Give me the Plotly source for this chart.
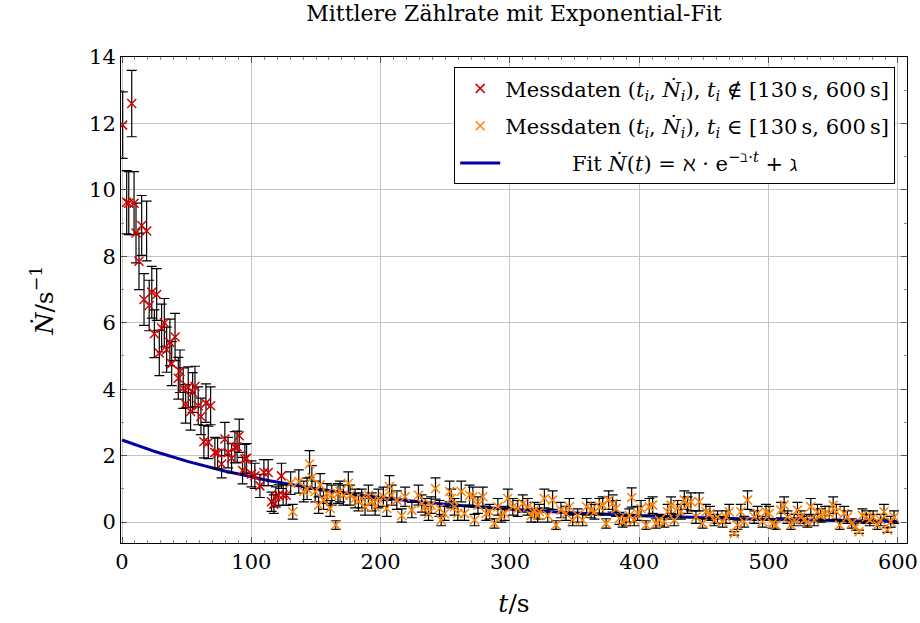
import numpy as np
import plotly.graph_objects as go

# ---- data ----
red_t = [0.5, 3.6, 5.2, 7.5, 9.3, 10.8, 13.1, 15.2, 17.0, 19.0, 21.0, 23.0, 25.0, 26.8, 28.8,
         30.6, 32.7, 34.5, 37.0, 38.4, 41.0, 43.5, 44.8, 47.3, 49.2, 51.2, 53.0, 54.6, 56.4,
         58.9, 61.0, 63.3, 64.9, 66.7, 68.5, 71.8, 73.9, 77.0, 79.5, 82.0, 84.7, 87.3, 89.0,
         90.6, 93.2, 95.0, 96.3, 100.1, 102.7, 106.6, 109.7, 113.0, 115.6, 117.4, 118.9,
         121.0, 123.3, 124.6, 127.0]
red_N = [11.95, 9.63, 9.6, 12.6, 9.6, 8.7, 7.85, 8.93, 6.7, 8.76, 6.52, 6.92, 5.67, 6.85, 5.09,
         5.84, 6.0, 5.19, 5.41, 4.77, 5.57, 4.33, 4.54, 4.03, 3.56, 4.06, 3.33, 3.9, 4.08,
         3.5, 3.18, 2.42, 3.58, 2.4, 3.5, 2.09, 2.07, 1.75, 2.5, 2.09, 1.92, 2.25, 2.27,
         2.6, 1.55, 1.9, 1.92, 1.45, 1.39, 1.09, 1.49, 1.49, 0.61, 0.54, 0.76,
         0.81, 1.39, 0.81, 0.81]
red_err = [1.0, 0.95, 0.95, 1.0, 0.95, 0.9, 0.85, 0.9, 0.78, 0.9, 0.76, 0.78, 0.72, 0.78, 0.68,
           0.72, 0.73, 0.68, 0.7, 0.66, 0.71, 0.63, 0.64, 0.61, 0.58, 0.61, 0.56, 0.6, 0.61,
           0.57, 0.55, 0.49, 0.58, 0.49, 0.57, 0.46, 0.46, 0.42, 0.5, 0.46, 0.44, 0.47, 0.47,
           0.5, 0.4, 0.44, 0.44, 0.39, 0.38, 0.35, 0.39, 0.39, 0.29, 0.28, 0.3,
           0.31, 0.38, 0.31, 0.31]

orange_t = [130.4, 132.0, 136.7, 140.5, 143.1, 145.0, 146.8, 149.4, 152.0, 153.2, 155.8, 158.4,
            161.0, 162.2, 165.3, 167.0, 168.6, 171.2, 175.0, 176.3, 180.2, 182.8, 185.3, 187.9,
            190.5, 193.1, 195.7, 198.2, 202.1, 204.7, 206.8, 208.6, 212.5, 216.3, 218.9, 224.1,
            229.2, 231.8, 234.4, 237.0,
            239.0, 242.4, 245.5, 246.8, 249.4, 253.3, 254.6, 257.1, 259.7, 262.3, 264.8, 268.7,
            271.3, 272.6, 275.2, 279.0, 281.6, 284.2, 288.0, 290.6, 293.2, 295.8, 298.3, 302.2,
            306.0, 309.9, 313.7, 316.3, 318.9, 321.4, 322.7, 326.6, 329.2, 333.0, 335.6, 339.4,
            343.3, 345.9, 348.5, 352.3, 356.2, 359.3,
            362.7, 365.3, 369.1, 371.7, 374.3, 376.3, 379.4, 382.0, 384.6, 387.1, 389.7, 392.3,
            394.1, 396.1, 398.7, 401.3, 405.2, 407.7, 410.3, 412.9, 415.5, 419.3, 421.9, 424.5,
            427.0, 429.6, 432.2, 434.8, 437.3, 439.9, 443.8, 446.3, 448.9, 451.5, 454.6, 458.0,
            460.5, 464.4, 467.0, 469.5, 473.4, 475.9, 478.5, 481.1, 483.7,
            488.9, 491.4, 495.3, 497.9, 500.4, 503.0, 505.6, 509.5, 512.0, 514.6, 517.2, 519.7,
            522.3, 524.9, 527.5, 530.0, 532.6, 535.2, 537.8, 540.3, 543.7, 546.8, 549.9, 552.4,
            555.0, 558.4, 560.9, 564.3, 567.4, 569.9, 572.5, 575.6, 578.2, 580.8, 584.1, 586.7,
            589.2, 591.8, 594.4, 597.0]
orange_N = [1.17, 0.31, 1.22, 0.92, 1.0, 1.75, 1.34, 0.92, 0.51, 1.12, 0.66, 0.86,
            0.41, 0.81, -0.09, 0.86, 0.92, 0.81, 1.17, 0.81, 0.71, 0.61, 0.71, 0.46,
            0.81, 0.61, 0.46, 0.71, 0.76, 0.41, 1.07, 0.81, 0.66, 0.2, 0.76, 0.36,
            0.81, 0.56, 0.46, 0.26,
            0.51, 1.01, 0.41, 0.06, 0.26, 0.92, 0.71, 0.46, 0.26, 0.92, 0.26, 0.81,
            0.76, 0.06, 0.51, 0.76, 0.26, 0.31, -0.04, 0.46, 0.2, 0.26, 0.71, 0.46,
            0.41, 0.56, 0.46, 0.2, 0.36, 0.2, 0.31, 0.71, 0.2, 0.66, -0.09, 0.36,
            0.26, 0.46, 0.06, 0.2, 0.06, 0.46,
            0.36, 0.31, 0.46, 0.51, -0.04, 0.66, 0.56, 0.41, 0.11, 0.01, 0.06, 0.2,
            0.74, 0.06, 0.26, 0.41, -0.09, 0.46, 0.51, -0.04, 0.06, 0.01, 0.31, 0.51,
            0.06, 0.41, 0.31, 0.66, 0.51, 0.61, 0.15, 0.61, -0.04, 0.31, 0.26, 0.06,
            0.15, 0.01, 0.15, 0.31, -0.34, -0.09, 0.31, 0.01, 0.66,
            0.15, 0.26, 0.01, 0.31, 0.26, -0.04, -0.09, 0.36, 0.51, 0.15, -0.09, 0.06,
            0.36, 0.15, 0.06, 0.01, 0.46, 0.06, 0.31, 0.2, 0.26, 0.26, 0.51, 0.31,
            -0.09, 0.26, 0.15, -0.04, -0.14, -0.29, 0.2, 0.15, 0.06, 0.15, -0.09, 0.06,
            0.31, -0.24, 0.01, 0.15]
orange_err = [0.34, 0.22, 0.35, 0.31, 0.32, 0.40, 0.36, 0.31, 0.25, 0.34, 0.28, 0.30,
              0.24, 0.30, 0.13, 0.30, 0.31, 0.30, 0.34, 0.30, 0.28, 0.27, 0.28, 0.25,
              0.30, 0.27, 0.25, 0.28, 0.29, 0.24, 0.33, 0.30, 0.28, 0.20, 0.29, 0.23,
              0.30, 0.26, 0.25, 0.21,
              0.25, 0.32, 0.24, 0.17, 0.21, 0.31, 0.28, 0.25, 0.21, 0.31, 0.21, 0.30,
              0.29, 0.17, 0.25, 0.29, 0.21, 0.22, 0.14, 0.25, 0.20, 0.21, 0.28, 0.25,
              0.24, 0.26, 0.25, 0.20, 0.23, 0.20, 0.22, 0.28, 0.20, 0.28, 0.13, 0.23,
              0.21, 0.25, 0.17, 0.20, 0.17, 0.25,
              0.23, 0.22, 0.25, 0.25, 0.14, 0.28, 0.26, 0.24, 0.18, 0.16, 0.17, 0.20,
              0.29, 0.17, 0.21, 0.24, 0.13, 0.25, 0.25, 0.14, 0.17, 0.16, 0.22, 0.25,
              0.17, 0.24, 0.22, 0.28, 0.25, 0.27, 0.19, 0.27, 0.14, 0.22, 0.21, 0.17,
              0.19, 0.16, 0.19, 0.22, 0.05, 0.13, 0.22, 0.16, 0.28,
              0.19, 0.21, 0.16, 0.22, 0.21, 0.14, 0.13, 0.23, 0.25, 0.19, 0.13, 0.17,
              0.23, 0.19, 0.17, 0.16, 0.25, 0.17, 0.22, 0.20, 0.21, 0.21, 0.25, 0.22,
              0.13, 0.21, 0.19, 0.14, 0.11, 0.05, 0.20, 0.19, 0.17, 0.19, 0.13, 0.17,
              0.22, 0.07, 0.16, 0.19]

# fit parameters  N(t) = A*exp(-B*t) + C
fit_A = 2.53
fit_B = 0.0058
fit_C = -0.06
fit_t = np.linspace(0, 600, 301)
fit_N = fit_A * np.exp(-fit_B * fit_t) + fit_C

SERIF = "DejaVu Serif, Liberation Serif, serif"
RED = "#d40000"
ORANGE = "#ff8000"
BLUE = "#0000a8"
NB = "&nbsp;"

fig = go.Figure()

fig.add_trace(go.Scatter(
    x=fit_t, y=fit_N, mode="lines",
    line=dict(color=BLUE, width=3),
    name=NB * 10 + "Fit <i>Ṅ</i>(<i>t</i>) = ℵ · e<sup>−ℶ·<i>t</i></sup> + ℷ",
    legendrank=3, legendgroup="fit",
))

err_style = dict(type="data", color="black", thickness=1.2, width=5)

fig.add_trace(go.Scatter(
    x=red_t, y=red_N, mode="markers",
    error_y=dict(array=red_err, **err_style),
    marker=dict(symbol="x-thin", size=9, line=dict(color=RED, width=1.5), color=RED),
    name="Messdaten (<i>t<sub>i</sub></i>, <i>Ṅ<sub>i</sub></i>), <i>t<sub>i</sub></i> ∉ [130\u2009s, 600\u2009s]",
    legendrank=1, legendgroup="out",
))
fig.add_trace(go.Scatter(
    x=orange_t, y=orange_N, mode="markers",
    error_y=dict(array=orange_err, **err_style),
    marker=dict(symbol="x-thin", size=9, line=dict(color=ORANGE, width=1.5), color=ORANGE),
    name="Messdaten (<i>t<sub>i</sub></i>, <i>Ṅ<sub>i</sub></i>), <i>t<sub>i</sub></i> ∈ [130\u2009s, 600\u2009s]",
    legendrank=2, legendgroup="in",
))

axis_common = dict(
    showline=True, linecolor="black", linewidth=1, mirror="allticks",
    ticks="inside", ticklen=6, tickcolor="#555", tickwidth=1,
    showgrid=True, gridcolor="#c4c4c4", gridwidth=1, zeroline=False,
    tickfont=dict(family=SERIF, size=21, color="black"),
    automargin=False,
)

fig.update_layout(
    width=920, height=623,
    margin=dict(l=121, r=13, t=57, b=80),
    paper_bgcolor="white", plot_bgcolor="white",
    font=dict(family=SERIF, color="black"),
    title=dict(text="Mittlere Zählrate mit Exponential-Fit", x=0.5587, xanchor="center",
               y=0.978, yanchor="middle", font=dict(family=SERIF, size=22)),
    xaxis=dict(range=[-0.8, 607], tick0=0, dtick=100,
               minor=dict(dtick=10, ticks="inside", ticklen=3, tickcolor="#888", showgrid=False),
               title=dict(text="<i>t</i>/s", font=dict(family=SERIF, size=25), standoff=21),
               **axis_common),
    yaxis=dict(range=[-0.63, 14], tick0=0, dtick=2,
               minor=dict(dtick=1, ticks="inside", ticklen=3, tickcolor="#888", showgrid=False),
               title=dict(text="<i>Ṅ</i>/s<sup>−1</sup>", font=dict(family=SERIF, size=25), standoff=28),
               **axis_common),
    legend=dict(x=0.985, y=0.979, xanchor="right", yanchor="top",
                bgcolor="white", bordercolor="black", borderwidth=1,
                font=dict(family=SERIF, size=21), itemwidth=40,
                tracegroupgap=7, traceorder="grouped"),
    showlegend=True,
)

fig.write_html("out.html")
